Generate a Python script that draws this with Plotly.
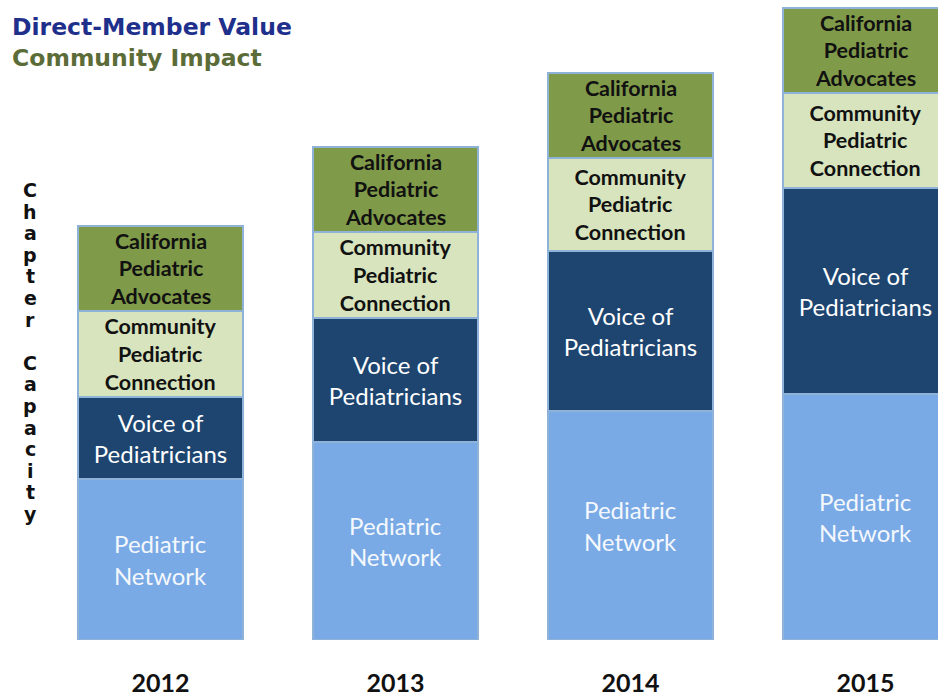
import plotly.graph_objects as go

years = ["2012", "2013", "2014", "2015"]
pediatric_network = [161, 198, 229, 246]
voice_of_pediatricians = [82, 124, 160, 206]
community_pediatric_connection = [86, 86, 93, 95]
california_pediatric_advocates = [85, 85, 85, 85]

series = [
    ("Pediatric Network", pediatric_network, "#79aae5", "Pediatric<br>Network", "#f4f8fd", 24, "Lato"),
    ("Voice of Pediatricians", voice_of_pediatricians, "#1d4570", "Voice of<br>Pediatricians", "#ffffff", 24, "Lato"),
    ("Community Pediatric Connection", community_pediatric_connection, "#d7e4bd", "<b>Community<br>Pediatric<br>Connection</b>", "#111111", 21.5, "Lato"),
    ("California Pediatric Advocates", california_pediatric_advocates, "#7f9a48", "<b>California<br>Pediatric<br>Advocates</b>", "#111111", 21.5, "Lato"),
]

LEFT = 43

fig = go.Figure()
for name, vals, color, label, tcolor, tsize, fam in series:
    fig.add_trace(go.Bar(
        x=years, y=vals, name=name,
        marker=dict(color=color, line=dict(color="#8fb2d8", width=1.2)),
        text=[label] * len(years),
        textposition="inside", insidetextanchor="middle", textangle=0,
        constraintext="none",
        textfont=dict(color=tcolor, size=tsize, family=fam),
        width=0.702, hoverinfo="skip",
    ))

fig.update_layout(
    barmode="stack",
    width=938, height=696,
    margin=dict(l=LEFT, r=0, t=0, b=56, autoexpand=False),
    paper_bgcolor="white", plot_bgcolor="white",
    showlegend=False,
    xaxis=dict(range=[-0.5, 3.3085], showgrid=False, zeroline=False, showline=False,
               ticks="", automargin=False,
               tickfont=dict(family="Lato", size=25, color="#111111"),
               tickvals=years, ticktext=["<b>%s</b>" % y for y in years],
               ticklabelstandoff=26),
    yaxis=dict(range=[0, 640], showgrid=False, zeroline=False, showline=False,
               showticklabels=False, automargin=False),
)

# vertical stacked axis title "Chapter Capacity"
letters = list("Chapter") + [""] + list("Capacity")
for i, ch in enumerate(letters):
    if not ch:
        continue
    fig.add_annotation(
        xref="paper", yref="paper", x=0, y=1, xanchor="center", yanchor="middle",
        xshift=30 - LEFT, yshift=-(190 + i * 21.6),
        text="<b>%s</b>" % ch, showarrow=False,
        font=dict(family="DejaVu Sans", size=19, color="#111111"),
    )

fig.add_annotation(
    xref="paper", yref="paper", x=0, y=1.0, xanchor="left", yanchor="top",
    xshift=10 - LEFT, yshift=-11,
    text="<b><span style='color:#1f2f8c'>Direct-Member Value</span><br><span style='color:#5c6c38'>Community Impact</span></b>",
    showarrow=False, align="left",
    font=dict(family="DejaVu Sans", size=23.5),
)

fig.write_html("out.html", config={"displayModeBar": False},
               post_script="document.body.style.margin='0';document.body.style.overflow='hidden';")
